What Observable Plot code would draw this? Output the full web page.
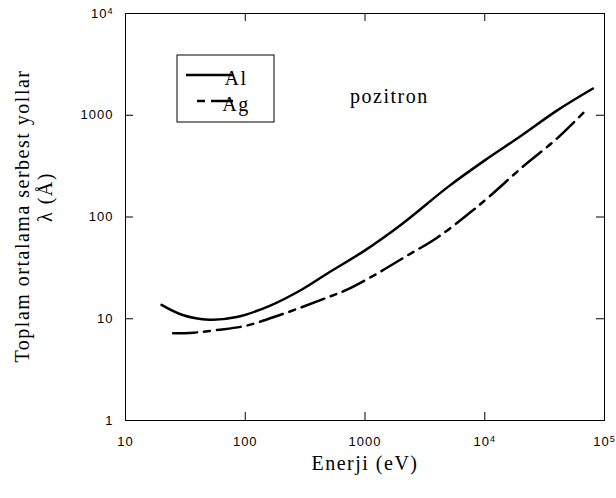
<!DOCTYPE html>
<html><head><meta charset="utf-8">
<script src="https://cdn.jsdelivr.net/npm/d3@7"></script>
<script src="https://cdn.jsdelivr.net/npm/@observablehq/plot@0.6"></script>
<style>body{margin:0;background:#fff}</style>
</head><body><div id="chart"></div>
<script>
// Data (energy in eV, inelastic mean free path in Å)
const alEnergy = [20, 30, 50, 85, 160, 300, 500, 1000, 2000, 5000, 10000, 20000, 40000, 80000];
const alLambda = [13.7, 10.9, 9.8, 10.4, 13.4, 19.5, 28.5, 47, 84, 200, 360, 625, 1110, 1830];
const agEnergy = [25, 37, 58, 100, 200, 480, 700, 1170, 2240, 4000, 7500, 11000, 20000, 40000, 72000];
const agLambda = [7.2, 7.3, 7.75, 8.5, 11, 16.1, 19.2, 26.4, 41.6, 62.6, 110, 160, 300, 590, 1160];
const seriesNames = ["Al", "Ag"];
const xTicks = [10, 100, 1000, 1e4, 1e5];
const xTickLabels = ["10", "100", "1000", "10^4", "10^5"];
const yTicks = [1, 10, 100, 1000, 1e4];
const yTickLabels = ["1", "10", "100", "1000", "10^4"];
const xLabel = "Enerji (eV)";
const yLabel1 = "Toplam ortalama serbest yollar";
const yLabel2 = "λ (Å)";
const note = "pozitron";

const al = alEnergy.map((e, i) => ({e, v: alLambda[i]}));
const ag = agEnergy.map((e, i) => ({e, v: agLambda[i]}));

const W = 616, H = 498, mL = 125, mR = 12, mT = 13, mB = 78;
const pw = W - mL - mR, ph = H - mT - mB, tk = 8;
const serif = "'Liberation Serif', 'Times New Roman', serif";
const sans = "'Liberation Sans', Arial, sans-serif";

const chart = Plot.plot({
  width: W, height: H,
  marginLeft: mL, marginRight: mR, marginTop: mT, marginBottom: mB,
  style: {fontFamily: sans, fontSize: "13px", background: "#fff", color: "#000"},
  x: {type: "log", domain: [10, 1e5]},
  y: {type: "log", domain: [1, 1e4]},
  marks: [
    Plot.axisX(xTicks, {anchor: "bottom", tickSize: 0, tickPadding: 16, label: null,
      tickFormat: d => xTickLabels[xTicks.indexOf(d)]}),
    Plot.axisY(yTicks, {anchor: "left", tickSize: 0, tickPadding: 12, label: null,
      tickFormat: d => yTickLabels[yTicks.indexOf(d)]}),
    Plot.tickX(xTicks, {x: d => d, insetTop: ph - tk, stroke: "#000"}),
    Plot.tickX(xTicks, {x: d => d, insetBottom: ph - tk, stroke: "#000"}),
    Plot.tickY(yTicks, {y: d => d, insetRight: pw - tk, stroke: "#000"}),
    Plot.tickY(yTicks, {y: d => d, insetLeft: pw - tk, stroke: "#000"}),
    Plot.frame({stroke: "#000", strokeWidth: 1}),
    Plot.line(al, {x: "e", y: "v", stroke: "#000", strokeWidth: 2.5, curve: "catmull-rom"}),
    Plot.line(ag, {x: "e", y: "v", stroke: "#000", strokeWidth: 2.5, curve: "catmull-rom", strokeDasharray: "24,7,6,7"})
  ]
});

document.getElementById("chart").appendChild(chart);
const svg = d3.select(chart);
svg.selectAll("[aria-label='x-axis tick label'], [aria-label='y-axis tick label']")
  .attr("font-size", 13).attr("font-family", sans);
svg.selectAll("[aria-label='x-axis tick label'] text, [aria-label='y-axis tick label'] text")
  .attr("font-size", 13)
  .attr("letter-spacing", "1px")
  .each(function() {
    const t = d3.select(this);
    const s = t.text();
    if (s.includes("^")) {
      const [base, exp] = s.split("^");
      t.text(base);
      t.append("tspan").attr("dy", "-0.45em").attr("font-size", "0.7em").text(exp);
    }
  });

const addText = (t, x, y, rot, anchor) => svg.append("text")
  .attr("transform", `translate(${x},${y})` + (rot ? ` rotate(${rot})` : ""))
  .attr("text-anchor", anchor)
  .attr("font-family", serif).attr("font-size", 20).attr("letter-spacing", "1.5px")
  .attr("fill", "#000").text(t);

addText(xLabel, 365, 470, 0, "middle");
addText(yLabel1, 29, 216, -90, "middle");
addText(yLabel2, 52, 197, -90, "middle");
addText(note, 350, 103, 0, "start");

// Legend
const lg = svg.append("g");
lg.append("rect").attr("x", 177).attr("y", 55).attr("width", 97).attr("height", 67)
  .attr("fill", "#fff").attr("stroke", "#000").attr("stroke-width", 1);
lg.append("line").attr("x1", 186).attr("x2", 233).attr("y1", 75).attr("y2", 75)
  .attr("stroke", "#000").attr("stroke-width", 2.5);
lg.append("line").attr("x1", 197).attr("x2", 233).attr("y1", 101).attr("y2", 101)
  .attr("stroke", "#000").attr("stroke-width", 2.5).attr("stroke-dasharray", "8,6,22");
lg.append("text").attr("x", 236).attr("y", 85).attr("font-family", serif).attr("font-size", 20)
  .attr("letter-spacing", "1.5px").text(seriesNames[0]);
lg.append("text").attr("x", 236).attr("y", 111).attr("font-family", serif).attr("font-size", 20)
  .attr("letter-spacing", "1.5px").text(seriesNames[1]);
</script>
</body></html>
